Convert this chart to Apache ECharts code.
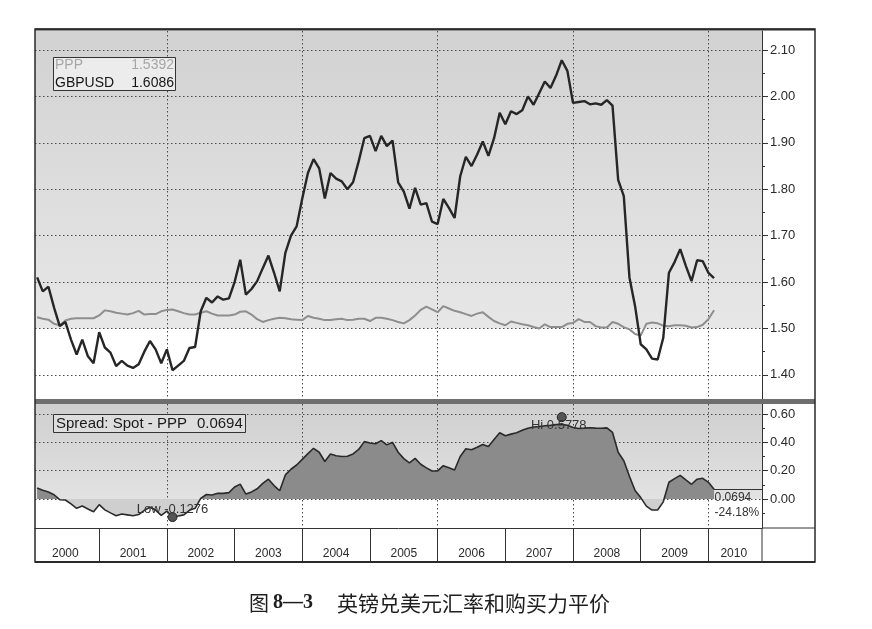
<!DOCTYPE html>
<html>
<head>
<meta charset="utf-8">
<title>英镑兑美元汇率和购买力平价</title>
<script src="https://cdn.jsdelivr.net/npm/echarts@6.0.0/dist/echarts.min.js"></script>
<style>
html,body{margin:0;padding:0;background:#fff;}
#chart{width:872px;height:629px;}
</style>
</head>
<body>
<div id="chart"></div>
<script>
// ---- data (monthly, Feb 2000 .. Feb 2010; x = months since Jan 2000) ----
const firstMonth = 1;

const gbpusd = [
  1.61, 1.58, 1.59, 1.545, 1.505, 1.514, 1.476, 1.444, 1.476, 1.44,
  1.425, 1.492, 1.459, 1.448, 1.419, 1.43, 1.42, 1.415, 1.423, 1.45,
  1.473, 1.455, 1.425, 1.455, 1.41, 1.42, 1.43, 1.458, 1.46, 1.537,
  1.566, 1.556, 1.569, 1.562, 1.565, 1.6, 1.648, 1.573, 1.585, 1.602,
  1.63, 1.657, 1.62, 1.58, 1.663, 1.7, 1.72, 1.78, 1.835, 1.865,
  1.845, 1.78, 1.835, 1.823, 1.817, 1.8, 1.815, 1.86, 1.91, 1.915,
  1.882, 1.915, 1.893, 1.905, 1.815, 1.795, 1.758, 1.803, 1.767, 1.77,
  1.73, 1.725, 1.779, 1.76, 1.738, 1.828, 1.87, 1.85, 1.875, 1.903,
  1.872, 1.91, 1.965, 1.94, 1.968, 1.962, 1.97, 2.0, 1.982, 2.007,
  2.032, 2.018, 2.045, 2.078, 2.055, 1.986, 1.988, 1.99, 1.983, 1.985,
  1.982, 1.992, 1.98, 1.82, 1.785, 1.61, 1.548, 1.466, 1.455, 1.435,
  1.433, 1.48, 1.62, 1.643, 1.671, 1.635, 1.602, 1.647, 1.645, 1.62,
  1.6086
];

const ppp = [
  1.524, 1.521, 1.519, 1.51, 1.507, 1.517, 1.521, 1.522, 1.522, 1.522,
  1.522, 1.528, 1.539, 1.537, 1.534, 1.532, 1.53, 1.533, 1.538, 1.53,
  1.531, 1.531, 1.537, 1.54, 1.541, 1.537, 1.533, 1.53, 1.53, 1.534,
  1.537, 1.532, 1.528, 1.528, 1.528, 1.53, 1.536, 1.537, 1.53, 1.52,
  1.514, 1.518, 1.521, 1.523, 1.522, 1.52, 1.519, 1.518, 1.527, 1.523,
  1.521, 1.518, 1.518, 1.52, 1.521, 1.518, 1.519, 1.521, 1.521, 1.516,
  1.523, 1.523, 1.521, 1.518, 1.514, 1.511, 1.518, 1.528, 1.54, 1.547,
  1.541, 1.535, 1.548, 1.543, 1.538, 1.535, 1.531, 1.527, 1.532, 1.535,
  1.525, 1.516, 1.511, 1.507, 1.515, 1.512, 1.509, 1.507, 1.503, 1.5,
  1.509, 1.503, 1.503, 1.503, 1.51, 1.512, 1.52, 1.514, 1.514, 1.505,
  1.502, 1.502, 1.514, 1.51, 1.503, 1.498, 1.488, 1.485, 1.51, 1.513,
  1.511, 1.506, 1.505, 1.507, 1.507, 1.506, 1.502, 1.503, 1.508, 1.52,
  1.5392
];

const spread = [
  0.078, 0.062, 0.05, 0.03, -0.005, -0.007, -0.035, -0.066, -0.05, -0.07,
  -0.09, -0.04, -0.077, -0.098, -0.118, -0.106, -0.112, -0.118, -0.11, -0.08,
  -0.058, -0.078, -0.115, -0.085, -0.1276, -0.12, -0.112, -0.08, -0.066, 0.005,
  0.032, 0.028, 0.04, 0.04, 0.045, 0.085, 0.105, 0.035, 0.05, 0.072,
  0.11, 0.14, 0.095, 0.058, 0.17, 0.21, 0.24, 0.28, 0.32, 0.358,
  0.33, 0.265, 0.318, 0.305, 0.3, 0.302, 0.318, 0.35, 0.405, 0.395,
  0.39, 0.412, 0.382, 0.4, 0.33, 0.285, 0.255, 0.287, 0.245, 0.22,
  0.198, 0.198, 0.235, 0.22, 0.205, 0.3, 0.355, 0.348, 0.365, 0.385,
  0.37, 0.42, 0.468, 0.447, 0.458, 0.468, 0.485, 0.5, 0.508, 0.512,
  0.517, 0.52, 0.525, 0.527, 0.52, 0.505, 0.498, 0.5, 0.503, 0.5,
  0.499, 0.502, 0.47, 0.33, 0.27, 0.16, 0.06, 0.01, -0.05, -0.078,
  -0.078, -0.02, 0.118, 0.144, 0.167, 0.135, 0.104, 0.14, 0.146, 0.118,
  0.0694
];

const spreadLow = -0.1276, spreadLowMonth = 25;
const spreadHi = 0.5778, spreadHiMonth = 94;
const spreadChangeText = '-24.18%';

const yearLabels = ['2000','2001','2002','2003','2004','2005','2006','2007','2008','2009','2010'];
const yearStartMonths = [12,24,36,48,60,72,84,96,108,120];
const yearLabelMonths = [6,18,30,42,54,66,78,90,102,114,124.5];
const gridMonths = [24,48,72,96,120];

const yTicksTop = [1.40,1.50,1.60,1.70,1.80,1.90,2.00,2.10];
const yMinorTop = [1.45,1.55,1.65,1.75,1.85,1.95,2.05];
const yTicksBottom = [0.00,0.20,0.40,0.60];
const yMinorBottom = [-0.10,0.10,0.30,0.50];

// ---- axis extents ----
const xMin = 0.62, xMax = 129.5;
const yMinTop = 1.348, yMaxTop = 2.141;
const yMinBottom = -0.2047, yMaxBottom = 0.6706;
const topShadeFrom = 1.50;

const toXY = arr => arr.map((v, i) => [firstMonth + i, v]);
const last = arr => arr[arr.length - 1];
const lastMonth = firstMonth + spread.length - 1;

const FONT = 'Liberation Sans, Arial, sans-serif';
const G = echarts.graphic.LinearGradient;

// gradient split at zero for the spread area (relative to area bounding box)
const sMax = Math.max(0, ...spread), sMin = Math.min(0, ...spread);
const zf = sMax / (sMax - sMin);
const spreadFill = new G(0, 0, 0, 1, [
  {offset: 0, color: '#8b8b8b'}, {offset: zf, color: '#8b8b8b'},
  {offset: zf, color: '#cfcfcf'}, {offset: 1, color: '#cfcfcf'}
]);

const gridLine = {show: true, lineStyle: {color: '#4a4a4a', width: 1, type: [1.5, 2.5]}};

const chart = echarts.init(document.getElementById('chart'), null, {renderer: 'canvas'});

const txt = (extra) => Object.assign({fontFamily: FONT, fontWeight: 'normal'}, extra);

const option = {
  animation: false,
  backgroundColor: '#ffffff',
  textStyle: {fontFamily: FONT},
  title: [
    {
      left: 244, top: 586,
      text: '{a|图}{b|8—3}{c|英镑兑美元汇率和购买力平价}',
      textStyle: {
        fontWeight: 'normal',
        rich: {
          a: {fontFamily: 'Noto Sans CJK SC', fontWeight: 'normal', fontSize: 20, color: '#1e1e1e', lineHeight: 24},
          b: {fontFamily: 'Liberation Serif', fontWeight: 'bold', fontSize: 20, color: '#1e1e1e', padding: [0, 0, 0, 4], lineHeight: 24},
          c: {fontFamily: 'Noto Sans CJK SC', fontWeight: 'normal', fontSize: 21, color: '#1e1e1e', padding: [0, 0, 0, 24], lineHeight: 24}
        }
      }
    },
    {
      left: 53, top: 55,
      padding: [1, 2, 1, 2],
      borderColor: '#333', borderWidth: 1, backgroundColor: '#ececec',
      text: '{pn|PPP}{pv|' + last(ppp).toFixed(4) + '}\n{gn|GBPUSD}{gv|' + last(gbpusd).toFixed(4) + '}',
      textStyle: {
        fontWeight: 'normal',
        rich: {
          pn: txt({width: 73, color: '#a6a6a6', fontSize: 14, lineHeight: 18}),
          pv: txt({width: 46, align: 'right', color: '#a6a6a6', fontSize: 14, lineHeight: 18}),
          gn: txt({width: 73, color: '#151515', fontSize: 14, lineHeight: 18}),
          gv: txt({width: 46, align: 'right', color: '#151515', fontSize: 14, lineHeight: 18})
        }
      }
    },
    {
      left: 53, top: 413,
      padding: [2, 3, 2, 3],
      borderColor: '#333', borderWidth: 1, backgroundColor: '#dedede',
      text: '{s|Spread: Spot - PPP}{v|' + last(spread).toFixed(4) + '}',
      textStyle: {
        fontWeight: 'normal',
        rich: {
          s: txt({color: '#1a1a1a', fontSize: 15, lineHeight: 17}),
          v: txt({color: '#1a1a1a', fontSize: 15, lineHeight: 17, padding: [0, 0, 0, 10]})
        }
      }
    }
  ],
  grid: [
    {left: 35, top: 31, width: 727, height: 368},
    {left: 35, top: 404, width: 727, height: 124}
  ],
  xAxis: [
    {
      gridIndex: 0, type: 'value', min: xMin, max: xMax, position: 'bottom', z: 2,
      axisLine: {show: false, onZero: false}, axisTick: {show: false, customValues: gridMonths},
      axisLabel: {show: false}, splitLine: gridLine
    },
    {
      gridIndex: 1, type: 'value', min: xMin, max: xMax, position: 'top', z: 2,
      axisLine: {show: false, onZero: false}, axisTick: {show: false, customValues: gridMonths},
      axisLabel: {show: false}, splitLine: gridLine
    },
    {
      gridIndex: 1, type: 'value', min: xMin, max: xMax, position: 'bottom', z: 2,
      axisLine: {show: true, onZero: false, lineStyle: {color: '#333', width: 1}},
      axisTick: {show: true, inside: false, length: 34, customValues: yearStartMonths, lineStyle: {color: '#333', width: 1}},
      axisLabel: {
        show: true, customValues: yearLabelMonths, margin: 20,
        fontSize: 12, color: '#2a2a2a', fontFamily: FONT,
        formatter: v => yearLabels[Math.floor(v / 12)]
      },
      splitLine: {show: false}
    }
  ],
  yAxis: [
    {
      gridIndex: 0, type: 'value', position: 'right', min: yMinTop, max: yMaxTop, z: 2,
      axisLine: {show: true, onZero: false, lineStyle: {color: '#333', width: 1}},
      axisTick: {show: true, length: 6, customValues: yTicksTop, lineStyle: {color: '#333'}},
      axisLabel: {show: true, customValues: yTicksTop, margin: 8, fontSize: 13, color: '#2a2a2a', fontFamily: FONT, formatter: v => v.toFixed(2)},
      splitLine: gridLine
    },
    {
      gridIndex: 0, type: 'value', position: 'right', min: yMinTop, max: yMaxTop, z: 2,
      axisLine: {show: false, onZero: false},
      axisTick: {show: true, length: 3, customValues: yMinorTop, lineStyle: {color: '#333'}},
      axisLabel: {show: false}, splitLine: {show: false}
    },
    {
      gridIndex: 1, type: 'value', position: 'right', min: yMinBottom, max: yMaxBottom, z: 2,
      axisLine: {show: true, onZero: false, lineStyle: {color: '#333', width: 1}},
      axisTick: {show: true, length: 6, customValues: yTicksBottom, lineStyle: {color: '#333'}},
      axisLabel: {show: true, customValues: yTicksBottom, margin: 8, fontSize: 13, color: '#2a2a2a', fontFamily: FONT, formatter: v => v.toFixed(2)},
      splitLine: gridLine
    },
    {
      gridIndex: 1, type: 'value', position: 'right', min: yMinBottom, max: yMaxBottom, z: 2,
      axisLine: {show: false, onZero: false},
      axisTick: {show: true, length: 3, customValues: yMinorBottom, lineStyle: {color: '#333'}},
      axisLabel: {show: false}, splitLine: {show: false}
    }
  ],
  series: [
    {
      name: 'PPP', type: 'line', xAxisIndex: 0, yAxisIndex: 0, z: 3,
      data: toXY(ppp), symbol: 'none',
      lineStyle: {color: '#8e8e8e', width: 2},
      markArea: {
        silent: true,
        itemStyle: {color: new G(0, 0, 0, 1, [{offset: 0, color: '#d2d2d2'}, {offset: 1, color: '#e7e7e7'}])},
        data: [[{yAxis: topShadeFrom}, {yAxis: yMaxTop}]]
      }
    },
    {
      name: 'GBPUSD', type: 'line', xAxisIndex: 0, yAxisIndex: 0, z: 4,
      data: toXY(gbpusd), symbol: 'none',
      lineStyle: {color: '#262626', width: 2.4}
    },
    {
      name: 'Spread: Spot - PPP', type: 'line', xAxisIndex: 1, yAxisIndex: 2, z: 3,
      data: toXY(spread), symbol: 'none',
      lineStyle: {color: '#2a2a2a', width: 1.6},
      areaStyle: {origin: 0, opacity: 1, color: spreadFill},
      markArea: {
        silent: true,
        itemStyle: {color: new G(0, 0, 0, 1, [{offset: 0, color: '#cfcfcf'}, {offset: 1, color: '#e2e2e2'}])},
        data: [[{yAxis: 0}, {yAxis: yMaxBottom}]]
      },
      markLine: {
        silent: true, symbol: 'none', label: {show: false},
        lineStyle: {color: '#333', width: 1, type: 'solid'},
        data: [[{coord: [lastMonth, last(spread)]}, {coord: [xMax, last(spread)]}]]
      },
      markPoint: {
        silent: true,
        data: [
          {
            name: 'low', coord: [spreadLowMonth, spreadLow], value: spreadLow,
            symbol: 'circle', symbolSize: 9,
            itemStyle: {color: '#555', borderColor: '#222', borderWidth: 1},
            label: {show: true, position: 'inside', offset: [0, -8], color: '#333', fontSize: 13, fontFamily: FONT,
              formatter: 'Low ' + spreadLow.toFixed(4)}
          },
          {
            name: 'hi', coord: [spreadHiMonth, spreadHi], value: spreadHi,
            symbol: 'circle', symbolSize: 9,
            itemStyle: {color: '#555', borderColor: '#222', borderWidth: 1},
            label: {show: true, position: 'inside', offset: [-3, 8], color: '#333', fontSize: 13, fontFamily: FONT,
              formatter: 'Hi ' + spreadHi.toFixed(4)}
          },
          {
            name: 'last', coord: [lastMonth, last(spread)], value: last(spread),
            symbol: 'circle', symbolSize: 1,
            itemStyle: {color: 'rgba(0,0,0,0)'},
            label: {show: true, position: [1, 2], color: '#333', fontSize: 12, lineHeight: 15, fontFamily: FONT,
              align: 'left', verticalAlign: 'top',
              formatter: last(spread).toFixed(4) + '\n' + spreadChangeText}
          }
        ]
      }
    }
  ],
  graphic: [
    {type: 'rect', z: 50, silent: true, shape: {x: 35, y: 399, width: 780, height: 5}, style: {fill: '#6e6e6e'}},
    {type: 'rect', z: 50, silent: true, shape: {x: 35, y: 29, width: 780, height: 533}, style: {fill: 'transparent', stroke: '#2a2a2a', lineWidth: 1.5}},
    {type: 'line', z: 50, silent: true, shape: {x1: 35, y1: 29.5, x2: 815, y2: 29.5}, style: {stroke: '#2a2a2a', lineWidth: 2}},
    {type: 'line', z: 50, silent: true, shape: {x1: 35, y1: 562, x2: 815, y2: 562}, style: {stroke: '#2a2a2a', lineWidth: 2}},
    {type: 'line', z: 50, silent: true, shape: {x1: 762, y1: 528, x2: 815, y2: 528}, style: {stroke: '#333', lineWidth: 1}},
    {type: 'line', z: 50, silent: true, shape: {x1: 762, y1: 528, x2: 762, y2: 562}, style: {stroke: '#333', lineWidth: 1}}
  ]
};

chart.setOption(option);
</script>
</body>
</html>
